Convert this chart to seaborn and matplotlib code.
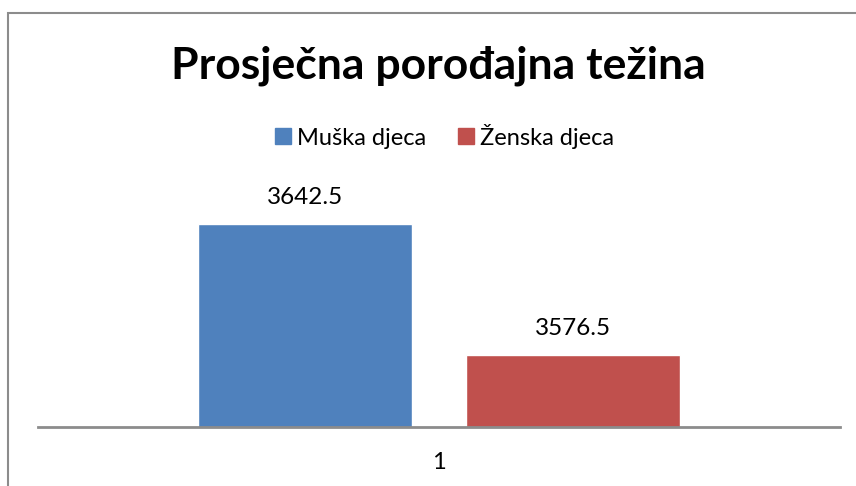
import numpy as np
import pandas as pd
import matplotlib
matplotlib.use('Agg')
import matplotlib.pyplot as plt
import seaborn as sns
from matplotlib.patches import Rectangle

# data
categories = ['1']
series = ['Muška djeca', 'Ženska djeca']
values = [3642.5, 3576.5]
colors = ['#4F81BD', '#C0504D']

df = pd.DataFrame({'cat': categories * len(series), 'serija': series, 'tezina': values})

sns.set_style('white')
plt.rcParams['font.family'] = ['Lato', 'DejaVu Sans']
plt.rcParams['text.color'] = 'black'
plt.rcParams['xtick.color'] = 'black'

fig = plt.figure(figsize=(8.56, 4.86), dpi=100)
ax = fig.add_axes([38/856, 1 - 427/486, 802/856, 238/486])

sns.barplot(data=df, x='cat', y='tezina', hue='serija', palette=colors,
            width=0.667, gap=0.2, ax=ax, legend=False, saturation=1)

ax.set_ylim(3540, 3660)
ax.set_xlim(-0.5, 0.5)
ax.set_xlabel('')
ax.set_ylabel('')
ax.set_yticks([])
for s in ['top', 'right', 'left']:
    ax.spines[s].set_visible(False)
ax.spines['bottom'].set_color('#8c8c8c')
ax.spines['bottom'].set_linewidth(2)
ax.tick_params(axis='x', length=0, pad=18, labelsize=17, labelcolor='black')

for c in ax.containers:
    ax.bar_label(c, fmt='%.1f', padding=11, fontsize=17.5, color='black')

# legend
handles = [Rectangle((0, 0), 1, 1, color=col) for col in colors]
fig.legend(handles, series, loc='center', bbox_to_anchor=(0.519, 1 - 136/486),
           ncol=2, frameon=False, fontsize=17, handlelength=0.68, handleheight=0.68,
           handletextpad=0.25, columnspacing=1.35, labelcolor='black')

fig.text(0.512, 1 - 78/486, 'Prosječna porođajna težina', ha='center', va='baseline',
         fontsize=32, fontweight='bold', color='black')

# chart border
fig.add_artist(Rectangle((8/856, -0.05), 1.0, 1 - 13/486 + 0.05, transform=fig.transFigure,
                         fill=False, edgecolor='#8c8c8c', linewidth=1.5))

fig.savefig('out.png', dpi=100)
